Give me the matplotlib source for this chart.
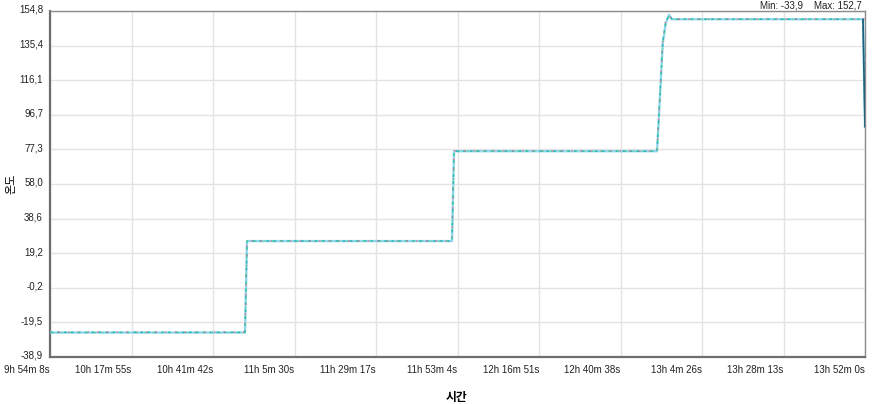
import numpy as np
import matplotlib.pyplot as plt
from matplotlib.transforms import offset_copy

plt.rcParams['font.family'] = ['Liberation Sans', 'Noto Sans CJK KR']

# time in seconds since midnight, temperature in degC (breakpoints)
t_pts = [35648, 39063, 39098, 42688, 42723, 46278, 46313, 46378, 46430, 46488, 46540, 49885, 49920]
temp_blue = [-25.2, -25.2, 26.0, 26.0, 76.3, 76.3, 97.0, 136.6, 148.0, 152.7, 150.2, 150.2, 90.0]
temp_red = [-25.0, -25.0, 26.1, 26.1, 76.6, 76.4, 98.0, 138.0, 149.5, 152.0, 150.3, 150.3, 150.0]
temp_green = [-25.3, -25.3, 25.9, 25.9, 76.2, 76.2, 96.0, 135.5, 147.5, 151.8, 150.1, 150.1, 149.8]
temp_teal = [-25.1, -25.1, 26.0, 26.0, 76.4, 76.3, 97.5, 137.0, 148.5, 152.3, 150.2, 150.2, 90.0]

x_ticklabels = ['9h 54m 8s', '10h 17m 55s', '10h 41m 42s', '11h 5m 30s', '11h 29m 17s',
                '11h 53m 4s', '12h 16m 51s', '12h 40m 38s', '13h 4m 26s', '13h 28m 13s',
                '13h 52m 0s']
y_ticklabels = ['-38,9', '-19,5', '-0,2', '19,2', '38,6', '58,0', '77,3', '96,7',
                '116,1', '135,4', '154,8']
t_start, t_end = 35648, 49920
y_min, y_max = -38.9, 154.8

fig = plt.figure(figsize=(8.78, 4.04), dpi=100)
ax = fig.add_axes([50 / 878, 47 / 404, 815 / 878, 346 / 404])

ax.plot(t_pts, temp_blue, color='#92d6ee', lw=1.7, zorder=3)
ax.plot(t_pts, temp_teal, color='#22b4a8', lw=1.0, ls=(0, (2, 3)), zorder=4)
ax.plot(t_pts, temp_red, color='#e07090', lw=1.0, ls=(1, (1, 6)), zorder=5)
ax.plot(t_pts, temp_green, color='#50d890', lw=1.0, ls=(4, (1, 5)), zorder=5)
# dark tail at the very end
ax.plot(t_pts[-2:], temp_teal[-2:], color='#1f5f78', lw=1.2, zorder=6)

ax.set_xlim(t_start, t_end)
ax.set_ylim(y_min, y_max)
ax.set_xticks(np.linspace(t_start, t_end, len(x_ticklabels)))
ax.set_xticklabels(x_ticklabels, ha='right')
ax.set_yticks(np.linspace(y_min, y_max, len(y_ticklabels)))
ax.set_yticklabels(y_ticklabels)
ax.tick_params(length=0, labelsize=7, colors='#222222')
ax.tick_params(axis='x', pad=6)
ax.tick_params(axis='y', pad=5)
for lab in ax.get_yticklabels():
    lab.set_transform(offset_copy(lab.get_transform(), fig=fig, x=0, y=2, units='dots'))
ax.grid(True, color='#e3e3e3', lw=1)
ax.set_axisbelow(True)

for s in ['left', 'bottom']:
    ax.spines[s].set_color('#6e6e6e')
    ax.spines[s].set_linewidth(1.6)
for s in ['top', 'right']:
    ax.spines[s].set_color('#8c8c8c')
    ax.spines[s].set_linewidth(1.0)

fig.text(11 / 878, 1 - 184 / 404, '온도', rotation=90, ha='center', va='center',
         fontsize=8, family=['Noto Sans CJK KR', 'DejaVu Sans'])
fig.text(457 / 878, 1 - 397 / 404, '시간', ha='center', va='center',
         fontsize=8.5, weight='bold', family=['Noto Sans CJK KR', 'DejaVu Sans'])
fig.text(862 / 878, 1 - 5 / 404, 'Min: -33,9    Max: 152,7', ha='right', va='center',
         fontsize=7, color='#222222')

fig.savefig('out.png', dpi=100)
